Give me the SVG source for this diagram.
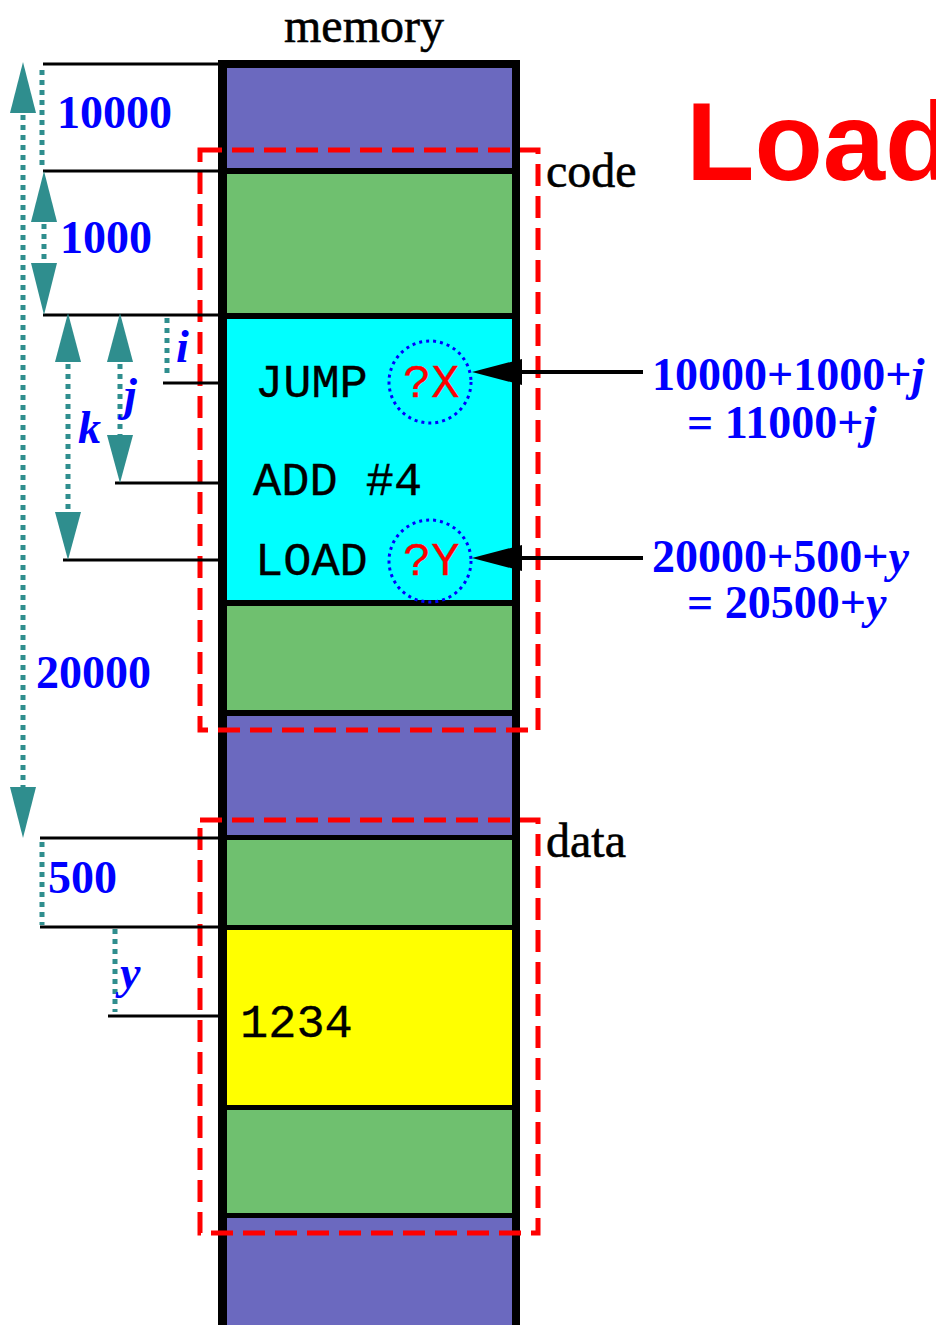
<svg xmlns="http://www.w3.org/2000/svg" width="936" height="1325" viewBox="0 0 936 1325">
<style>
.band{stroke:none}
.pur{fill:#6b69bf}
.grn{fill:#6fc06f}
.cyn{fill:#00ffff}
.yel{fill:#ffff00}
.tick{stroke:#000;stroke-width:3;fill:none}
.dot{stroke:#2f8e8e;stroke-width:5;stroke-dasharray:5 5;fill:none}
.ah{fill:#2f8e8e}
.red{stroke:#ff0000;stroke-width:5;stroke-dasharray:22 10;fill:none}
.circ{stroke:#0000ff;stroke-width:3;stroke-dasharray:3 4;fill:none}
.lbl{font-family:"Liberation Serif",serif;font-weight:bold;fill:#0000ff;font-size:46px}
.var{font-family:"Liberation Serif",serif;font-weight:bold;font-style:italic;fill:#0000ff;font-size:46px}
.ser{font-family:"Liberation Serif",serif;fill:#000;font-size:48px;stroke:#000;stroke-width:0.6}
.mono{font-family:"Liberation Mono",monospace;font-size:47px;fill:#000;stroke:#000;stroke-width:0.3}
.monor{font-family:"Liberation Mono",monospace;font-size:47px;fill:#ff0000;stroke:#ff0000;stroke-width:0.3}
</style>
<rect width="936" height="1325" fill="#fff"/>
<g id="memory">
  <rect x="218" y="60" width="302" height="1275" fill="#000"/>
  <rect class="band pur" x="227" y="68" width="285" height="100"/>
  <rect class="band grn" x="227" y="174" width="285" height="139"/>
  <rect class="band cyn" x="227" y="319" width="285" height="281"/>
  <rect class="band grn" x="227" y="606" width="285" height="104"/>
  <rect class="band pur" x="227" y="716" width="285" height="119"/>
  <rect class="band grn" x="227" y="840" width="285" height="85"/>
  <rect class="band yel" x="227" y="930" width="285" height="175"/>
  <rect class="band grn" x="227" y="1110" width="285" height="103"/>
  <rect class="band pur" x="227" y="1218" width="285" height="110"/>
  <text class="ser" x="364" y="42" text-anchor="middle">memory</text>
</g>
<g id="instructions">
  <text class="mono" x="255" y="397">JUMP</text>
  <text class="monor" x="403" y="397">?X</text>
  <text class="mono" x="253" y="495">ADD #4</text>
  <text class="mono" x="255" y="575">LOAD</text>
  <text class="monor" x="403" y="575">?Y</text>
  <circle class="circ" cx="430" cy="382" r="41"/>
  <circle class="circ" cx="430" cy="561" r="41"/>
  <text class="mono" x="240" y="1037">1234</text>
</g>
<g id="regions">
  <rect class="red" x="200" y="150" width="338" height="580"/>
  <text class="ser" x="546" y="187">code</text>
  <rect class="red" x="200" y="820" width="338" height="413"/>
  <text class="ser" x="546" y="857">data</text>
</g>
<g id="title">
  <text x="686" y="180" font-family="Liberation Sans, Arial, sans-serif" font-weight="bold" font-size="112" fill="#ff0000">Load</text>
</g>
<g id="connectors">
  <line class="tick" x1="43" y1="64" x2="220" y2="64"/>
  <line class="tick" x1="43" y1="171" x2="220" y2="171"/>
  <line class="tick" x1="43" y1="315" x2="220" y2="315"/>
  <line class="tick" x1="163" y1="383" x2="220" y2="383"/>
  <line class="tick" x1="115" y1="483" x2="220" y2="483"/>
  <line class="tick" x1="63" y1="560" x2="220" y2="560"/>
  <line class="tick" x1="40" y1="838" x2="220" y2="838"/>
  <line class="tick" x1="40" y1="927" x2="220" y2="927"/>
  <line class="tick" x1="108" y1="1016" x2="220" y2="1016"/>

  <line class="dot" x1="23" y1="115" x2="23" y2="787"/>
  <polygon class="ah" points="23,62 36,113 10,113"/>
  <polygon class="ah" points="23,838 36,787 10,787"/>

  <line class="dot" x1="42" y1="70" x2="42" y2="168"/>

  <line class="dot" x1="44" y1="224" x2="44" y2="262"/>
  <polygon class="ah" points="44,171 57,222 31,222"/>
  <polygon class="ah" points="44,315 57,263 31,263"/>

  <line class="dot" x1="68" y1="364" x2="68" y2="512"/>
  <polygon class="ah" points="68,313 81,362 55,362"/>
  <polygon class="ah" points="68,560 81,512 55,512"/>

  <line class="dot" x1="120" y1="364" x2="120" y2="435"/>
  <polygon class="ah" points="120,313 133,362 107,362"/>
  <polygon class="ah" points="120,483 133,435 107,435"/>

  <line class="dot" x1="167" y1="318" x2="167" y2="377"/>
  <line class="dot" x1="42" y1="842" x2="42" y2="925"/>
  <line class="dot" x1="115" y1="929" x2="115" y2="1012"/>

  <line x1="643" y1="372" x2="515" y2="372" stroke="#000" stroke-width="4"/>
  <polygon points="472,372 522,359 522,385" fill="#000"/>
  <line x1="643" y1="558" x2="515" y2="558" stroke="#000" stroke-width="4"/>
  <polygon points="472,558 522,545 522,571" fill="#000"/>
</g>
<g id="labels">
  <text class="lbl" x="57" y="128">10000</text>
  <text class="lbl" x="60" y="253">1000</text>
  <text class="lbl" x="36" y="688">20000</text>
  <text class="lbl" x="48" y="893">500</text>
  <text class="var" x="176" y="362">i</text>
  <text class="var" x="124" y="410">j</text>
  <text class="var" x="78" y="443">k</text>
  <text class="var" x="120" y="988">y</text>
  <text class="lbl" x="652" y="390" font-size="47">10000+1000+<tspan font-style="italic">j</tspan></text>
  <text class="lbl" x="687" y="438" font-size="47">= 11000+<tspan font-style="italic">j</tspan></text>
  <text class="lbl" x="652" y="572" font-size="47">20000+500+<tspan font-style="italic">y</tspan></text>
  <text class="lbl" x="687" y="618" font-size="47">= 20500+<tspan font-style="italic">y</tspan></text>
</g>
</svg>
